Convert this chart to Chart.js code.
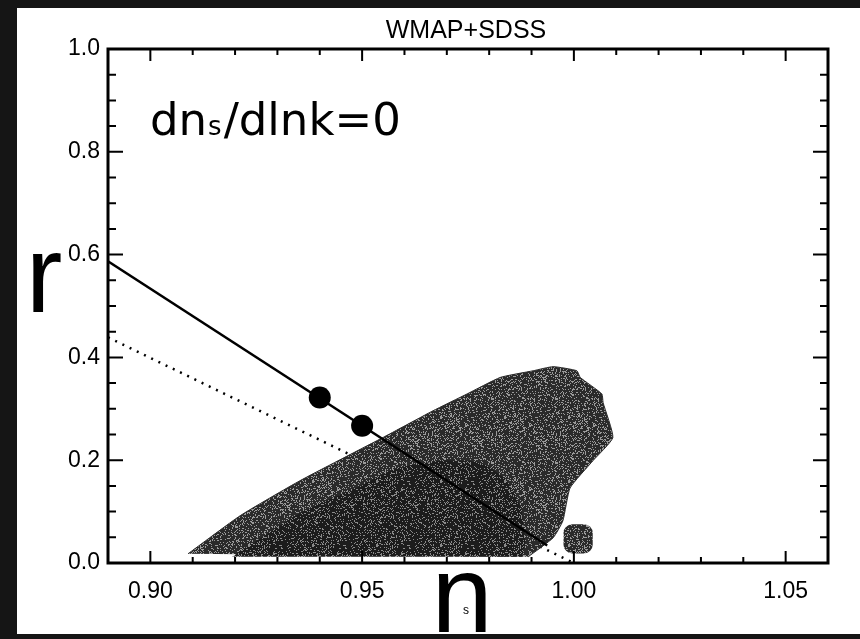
<!DOCTYPE html>
<html>
<head>
<meta charset="utf-8">
<title>WMAP+SDSS</title>
<script src="https://cdn.jsdelivr.net/npm/chart.js@4.4.1/dist/chart.umd.min.js"></script>
<style>
	html, body { margin: 0; padding: 0; background: #151515; }
	#wrap { width: 860px; height: 639px; }
</style>
</head>
<body>
<div id="wrap"><canvas id="myChart" width="860" height="639"></canvas></div>
<script>
const xTicks = [0.9, 0.95, 1.0, 1.05];
const yTicks = [0.0, 0.2, 0.4, 0.6, 0.8, 1.0];

// allowed region (outer contour), n_s and r going round the edge
const outerN = [0.9089, 0.9212, 0.9353, 0.9549, 0.9667, 0.9748, 0.9826, 0.9904, 0.9951, 1.0007, 1.0015, 1.0066, 1.0069, 1.0092, 1.0045, 0.9991, 0.9974, 0.9951, 0.9892];
const outerR = [0.018, 0.092, 0.160, 0.244, 0.296, 0.329, 0.361, 0.374, 0.382, 0.374, 0.361, 0.329, 0.312, 0.244, 0.199, 0.146, 0.082, 0.049, 0.012];
// inner (darker) contour
const innerN = [0.9193, 0.9353, 0.9495, 0.9578, 0.9684, 0.9778, 0.9837, 0.9873, 0.9885, 0.9878];
const innerR = [0.012, 0.097, 0.150, 0.183, 0.199, 0.195, 0.164, 0.111, 0.043, 0.012];

// model lines
const solidN = [0.89, 0.9937];
const solidR = [0.587, 0.034];
const dotN = [0.89, 1.0];
const dotR = [0.439, 0.0];
// points on the solid line
const dotsN = [0.94, 0.95];
const dotsR = [0.322, 0.267];
// Harrison-Zeldovich square
const hzN = [1.001];
const hzR = [0.047];

const pts = (xs, ys) => xs.map((x, i) => ({ x: x, y: ys[i] }));

// grainy fill like a photocopied halftone
function grain(base, speck, pct) {
	const g = document.createElement("canvas");
	g.width = 64;
	g.height = 64;
	const c = g.getContext("2d");
	c.fillStyle = base;
	c.fillRect(0, 0, 64, 64);
	c.fillStyle = speck;
	for (let i = 0; i < 64; i++) {
		for (let j = 0; j < 64; j++) {
			const h = ((i * 73856093) ^ (j * 19349663) ^ (i * j * 83492791)) >>> 0;
			if (h % 100 < pct) c.fillRect(i, j, 1, 1);
		}
	}
	return c.createPattern(g, "repeat");
}

const frame = {
	id: "frame",
	beforeDraw(chart) {
		const c = chart.ctx;
		c.save();
		c.fillStyle = "#151515";
		c.fillRect(0, 0, chart.width, chart.height);
		c.fillStyle = "#fff";
		c.fillRect(17, 8, chart.width - 17, 626);
		c.restore();
	},
	afterDraw(chart) {
		const c = chart.ctx;
		const a = chart.chartArea;
		const sx = chart.scales.x;
		const sy = chart.scales.y;
		c.save();
		c.strokeStyle = "#000";
		c.lineWidth = 2;
		c.beginPath();
		// inward ticks on all four sides
		for (let k = 90; k <= 105; k++) {
			const px = sx.getPixelForValue(k / 100);
			const len = k % 5 == 0 ? 12 : 6;
			c.moveTo(px, a.bottom); c.lineTo(px, a.bottom - len);
			c.moveTo(px, a.top); c.lineTo(px, a.top + len);
		}
		for (let k = 1; k < 20; k++) {
			const py = sy.getPixelForValue(k / 20);
			const len = k % 4 == 0 ? 15 : 8;
			c.moveTo(a.left, py); c.lineTo(a.left + len, py);
			c.moveTo(a.right, py); c.lineTo(a.right - len, py);
		}
		c.stroke();
		c.lineWidth = 3;
		c.strokeRect(a.left, a.top, a.right - a.left, a.bottom - a.top);

		c.fillStyle = "#000";
		c.textBaseline = "alphabetic";
		c.textAlign = "center";
		c.font = '25px "Liberation Sans"';
		c.fillText("WMAP+SDSS", (a.left + a.right) / 2 - 2, 38);

		// axis letters
		c.font = '110px "Liberation Sans"';
		c.fillText("r", 44, 312);
		c.fillText("n", 462, 632);
		c.font = '12px "Liberation Sans"';
		c.fillText("s", 466, 614);

		// dns/dlnk=0
		c.textAlign = "left";
		let x = 150;
		const base = 135;
		c.font = '45px "DejaVu Sans"';
		c.fillText("dn", x, base);
		x += c.measureText("dn").width;
		c.font = '26px "DejaVu Sans"';
		c.fillText("s", x + 1, base);
		x += c.measureText("s").width + 3;
		c.font = '45px "DejaVu Sans"';
		c.fillText("/dlnk=0", x, base);
		c.restore();
	},
};

const outerFill = grain("#2a2a2a", "#9a9a9a", 22);
const innerFill = grain("#1c1c1c", "#8a8a8a", 18);

const ctx = document.querySelector("#myChart").getContext("2d");
const chart = new Chart(ctx, {
	type: "scatter",
	data: {
		datasets: [
			{
				data: pts(dotsN, dotsR),
				backgroundColor: "#000",
				borderWidth: 0,
				pointRadius: 11,
				order: 0,
			},
			{
				data: pts(hzN, hzR),
				backgroundColor: outerFill,
				borderWidth: 0,
				pointStyle: "rectRounded",
				pointRadius: 17,
				order: 1,
			},
			{
				data: pts(solidN, solidR),
				showLine: true,
				borderColor: "#000",
				borderWidth: 2.5,
				pointRadius: 0,
				order: 2,
			},
			{
				data: pts(innerN, innerR),
				showLine: true,
				fill: "shape",
				backgroundColor: innerFill,
				borderColor: "rgba(0,0,0,0)",
				borderWidth: 0,
				pointRadius: 0,
				tension: 0.2,
				order: 3,
			},
			{
				data: pts(outerN, outerR),
				showLine: true,
				fill: "shape",
				backgroundColor: outerFill,
				borderColor: "#2a2a2a",
				borderWidth: 1,
				pointRadius: 0,
				tension: 0.15,
				order: 4,
			},
			{
				data: pts(dotN, dotR),
				showLine: true,
				borderColor: "#000",
				borderWidth: 2.5,
				borderDash: [2, 6],
				pointRadius: 0,
				order: 5,
			},
		],
	},
	options: {
		responsive: false,
		animation: false,
		layout: { padding: { top: 49, right: 32, bottom: 0, left: 0 } },
		plugins: { legend: { display: false }, tooltip: { enabled: false } },
		scales: {
			x: {
				type: "linear",
				min: 0.89,
				max: 1.06,
				afterBuildTicks: (s) => { s.ticks = xTicks.map((v) => ({ value: v })); },
				afterFit: (s) => { s.height = 76; },
				grid: { display: false, drawTicks: false },
				border: { display: false },
				ticks: {
					padding: 15,
					color: "#000",
					maxRotation: 0,
					font: { family: "Liberation Sans", size: 23 },
					callback: (v) => v.toFixed(2),
				},
			},
			y: {
				type: "linear",
				min: 0,
				max: 1,
				afterBuildTicks: (s) => { s.ticks = yTicks.map((v) => ({ value: v })); },
				afterFit: (s) => { s.width = 108; },
				grid: { display: false, drawTicks: false },
				border: { display: false },
				ticks: {
					padding: 8,
					color: "#000",
					font: { family: "Liberation Sans", size: 23 },
					callback: (v) => v.toFixed(1),
				},
			},
		},
	},
	plugins: [frame],
});
</script>
</body>
</html>
